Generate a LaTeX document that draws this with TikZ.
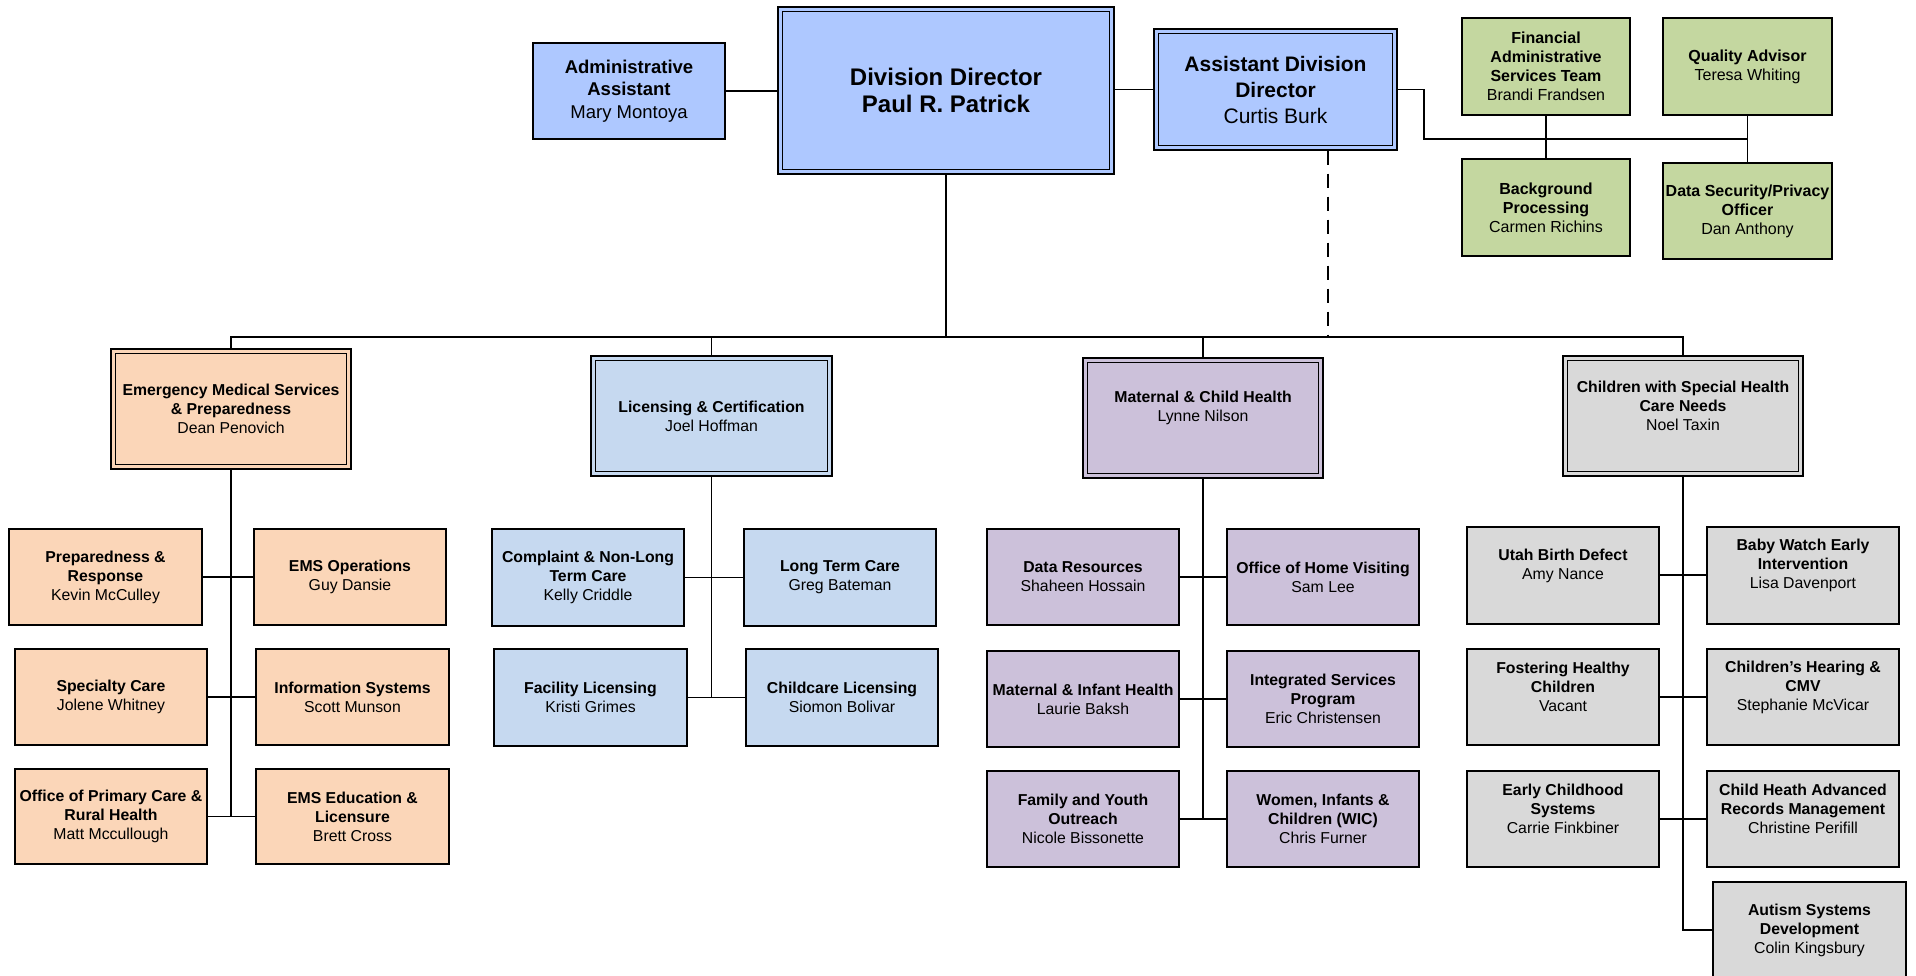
\documentclass[tikz,border=0pt]{standalone}
\usepackage{fontspec}
\setmainfont{Liberation Sans}
\begin{document}
\begin{tikzpicture}[x=1pt,y=-1pt,
  every node/.style={inner sep=0pt,align=center},
  box/.style={draw,line width=1.6pt,minimum width=192pt,minimum height=96pt,font=\fsub},
  topbox/.style={box,fill=topblue},
  grnbox/.style={box,fill=olive,minimum width=168pt,minimum height=97pt,font=\fgrn},
  emsbox/.style={box,fill=peach},
  lcbox/.style={box,fill=lcblue,minimum height=97pt},
  mchbox/.style={box,fill=lilac},
  cshbox/.style={box,fill=greyfill,minimum height=97pt},
  headbox/.style={draw,line width=1.2pt,minimum width=240pt,minimum height=120pt,font=\fsub},
  lift/.style={align=center,font=\fsub,yshift=10pt},
  link/.style={line width=1.9pt},
  dashlink/.style={line width=1.8pt,dash pattern=on 14pt off 9pt},
  inner/.style={line width=1.7pt}
]
\definecolor{topblue}{RGB}{174,200,255}
\definecolor{lcblue}{RGB}{198,217,240}
\definecolor{peach}{RGB}{251,214,184}
\definecolor{lilac}{RGB}{204,193,218}
\definecolor{greyfill}{RGB}{217,217,217}
\definecolor{olive}{RGB}{196,215,160}
\providecommand\fsub{\fontsize{15.8}{19}\selectfont}
\providecommand\fgrn{\fontsize{16}{19}\selectfont}
\providecommand\fadm{\fontsize{18.5}{22.5}\selectfont}
\providecommand\fdir{\fontsize{24}{27.5}\selectfont}
\providecommand\fadd{\fontsize{21}{26}\selectfont}

\clip (0,0) rectangle (1916,976);
\fill[white] (0,0) rectangle (1916,976);

% ---------- top row ----------
\node[topbox,minimum width=192pt,minimum height=96pt,font=\fadm] (admin) at (629,91)
  {\textbf{Administrative}\\\textbf{Assistant}\\Mary Montoya};
\node[topbox,headbox,fill=topblue,minimum width=336pt,minimum height=167pt,font=\fdir] (dir) at (946,90.5)
  {\textbf{Division Director}\\\textbf{Paul R. Patrick}};
\node[topbox,headbox,fill=topblue,minimum width=243pt,minimum height=121pt,font=\fadd] (add) at (1275.5,89.5)
  {\textbf{Assistant Division}\\\textbf{Director}\\Curtis Burk};

\node[grnbox] (fin) at (1546,66.5)
  {\textbf{Financial}\\\textbf{Administrative}\\\textbf{Services Team}\\Brandi Frandsen};
\node[grnbox,minimum width=169pt] (qa) at (1747.5,66.5)
  {\textbf{Quality Advisor}\\Teresa Whiting};
\node[grnbox] (bg) at (1546,207.5)
  {\textbf{Background}\\\textbf{Processing}\\Carmen Richins};
\node[grnbox,minimum width=169pt,minimum height=96pt] (dsp) at (1747.5,211)
  {\textbf{Data Security/Privacy}\\\textbf{Officer}\\Dan Anthony};

% ---------- section heads ----------
\node[headbox,fill=peach] (ems) at (231,409)
  {\textbf{Emergency Medical Services}\\\textbf{\& Preparedness}\\Dean Penovich};
\node[headbox,fill=lcblue,minimum width=241pt] (lc) at (711.5,416)
  {\textbf{Licensing \& Certification}\\Joel Hoffman};
\node[headbox,fill=lilac,label={[lift]center:{\textbf{Maternal \& Child Health}\\Lynne Nilson}}] (mch) at (1203,418) {};
\node[headbox,fill=greyfill,label={[lift]center:{\textbf{Children with Special Health}\\\textbf{Care Needs}\\Noel Taxin}}] (csh) at (1683,416) {};

% second border inside the double-framed boxes
\foreach \n in {dir,add,ems,lc,mch,csh}
  \draw[inner] ([xshift=5pt,yshift=-5pt]\n.north west) rectangle ([xshift=-5pt,yshift=5pt]\n.south east);

% ---------- Emergency Medical Services ----------
\node[emsbox,minimum width=193pt] (prep) at (105.5,577)
  {\textbf{Preparedness \&}\\\textbf{Response}\\Kevin McCulley};
\node[emsbox] (emsop) at (350,577)
  {\textbf{EMS Operations}\\Guy Dansie};
\node[emsbox] (spec) at (111,697)
  {\textbf{Specialty Care}\\Jolene Whitney};
\node[emsbox,minimum width=193pt] (infosys) at (352.5,697)
  {\textbf{Information Systems}\\Scott Munson};
\node[emsbox,minimum height=95pt] (opc) at (111,816.5)
  {\textbf{Office of Primary Care \&}\\\textbf{Rural Health}\\Matt Mccullough};
\node[emsbox,minimum width=193pt,minimum height=95pt] (emsedu) at (352.5,816.5)
  {\textbf{EMS Education \&}\\\textbf{Licensure}\\Brett Cross};

% ---------- Licensing & Certification ----------
\node[lcbox] (cmp) at (588,577.5)
  {\textbf{Complaint \& Non-Long}\\\textbf{Term Care}\\Kelly Criddle};
\node[lcbox] (ltc) at (840,577.5)
  {\textbf{Long Term Care}\\Greg Bateman};
\node[lcbox,minimum width=193pt] (fac) at (590.5,697.5)
  {\textbf{Facility Licensing}\\Kristi Grimes};
\node[lcbox] (ccl) at (842,697.5)
  {\textbf{Childcare Licensing}\\Siomon Bolivar};

% ---------- Maternal & Child Health ----------
\node[mchbox] (dr) at (1083,577)
  {\textbf{Data Resources}\\Shaheen Hossain};
\node[mchbox] (hv) at (1323,577)
  {\textbf{Office of Home Visiting}\\Sam Lee};
\node[mchbox] (mih) at (1083,699)
  {\textbf{Maternal \& Infant Health}\\Laurie Baksh};
\node[mchbox] (isp) at (1323,699)
  {\textbf{Integrated Services}\\\textbf{Program}\\Eric Christensen};
\node[mchbox] (fyo) at (1083,819)
  {\textbf{Family and Youth}\\\textbf{Outreach}\\Nicole Bissonette};
\node[mchbox] (wic) at (1323,819)
  {\textbf{Women, Infants \&}\\\textbf{Children (WIC)}\\Chris Furner};

% ---------- Children with Special Health Care Needs ----------
\node[cshbox,label={[lift]center:{\textbf{Utah Birth Defect}\\Amy Nance}}] (ubd) at (1563,575.5) {};
\node[cshbox,label={[lift]center:{\textbf{Baby Watch Early}\\\textbf{Intervention}\\Lisa Davenport}}] (bw) at (1803,575.5) {};
\node[cshbox,minimum height=96pt,label={[lift]center:{\textbf{Fostering Healthy}\\\textbf{Children}\\Vacant}}] (fhc) at (1563,697) {};
\node[cshbox,minimum height=96pt,label={[lift]center:{\textbf{Children’s Hearing \&}\\\textbf{CMV}\\Stephanie McVicar}}] (chc) at (1803,697) {};
\node[cshbox,minimum height=96pt,label={[lift]center:{\textbf{Early Childhood}\\\textbf{Systems}\\Carrie Finkbiner}}] (ecs) at (1563,819) {};
\node[cshbox,minimum height=96pt,label={[lift]center:{\textbf{Child Heath Advanced}\\\textbf{Records Management}\\Christine Perifill}}] (char) at (1803,819) {};
\node[cshbox,minimum width=193pt,minimum height=118pt,label={[lift,yshift=1pt]center:{\textbf{Autism Systems}\\\textbf{Development}\\Colin Kingsbury}}] (asd) at (1809.5,941) {};

% ---------- connectors: top ----------
\coordinate (bus) at (946,337);
\coordinate (elb) at (1424,139);
\coordinate (addtap) at ([xshift=52.5pt]add.south);
\draw[link] (admin.east) -- (admin.east -| dir.west);
\draw[link] (dir.east |- add.west) -- (add.west);
\draw[link] (add.east) -| (elb) -- (elb -| qa.south);
\draw[link] (fin.south) -- (bg.north);
\draw[link] (qa.south) -- (dsp.north);
\draw[link] (dir.south) -- (bus);
\draw[dashlink] (addtap) -- (addtap |- bus);
\draw[link] (ems.north) -- (ems.north |- bus) -- (csh.north |- bus) -- (csh.north);
\draw[link] (lc.north |- bus) -- (lc.north);
\draw[link] (mch.north |- bus) -- (mch.north);

% ---------- connectors: sections ----------
\draw[link] (ems.south) -- (ems.south |- opc.east);
\draw[link] (prep.east) -- (prep.east -| emsop.west);
\draw[link] (spec.east) -- (spec.east -| infosys.west);
\draw[link] (opc.east) -- (opc.east -| emsedu.west);

\draw[link] (lc.south) -- (lc.south |- fac.east);
\draw[link] (cmp.east) -- (cmp.east -| ltc.west);
\draw[link] (fac.east) -- (fac.east -| ccl.west);

\draw[link] (mch.south) -- (mch.south |- fyo.east);
\draw[link] (dr.east) -- (dr.east -| hv.west);
\draw[link] (mih.east) -- (mih.east -| isp.west);
\draw[link] (fyo.east) -- (fyo.east -| wic.west);

\coordinate (asdtap) at ([yshift=11pt]asd.west);
\draw[link] (csh.south) -- (csh.south |- asdtap) -- (asdtap);
\draw[link] ([yshift=0.5pt]ubd.east) -- ([yshift=0.5pt]ubd.east -| bw.west);
\draw[link] (fhc.east) -- (fhc.east -| chc.west);
\draw[link] (ecs.east) -- (ecs.east -| char.west);
\end{tikzpicture}
\end{document}
